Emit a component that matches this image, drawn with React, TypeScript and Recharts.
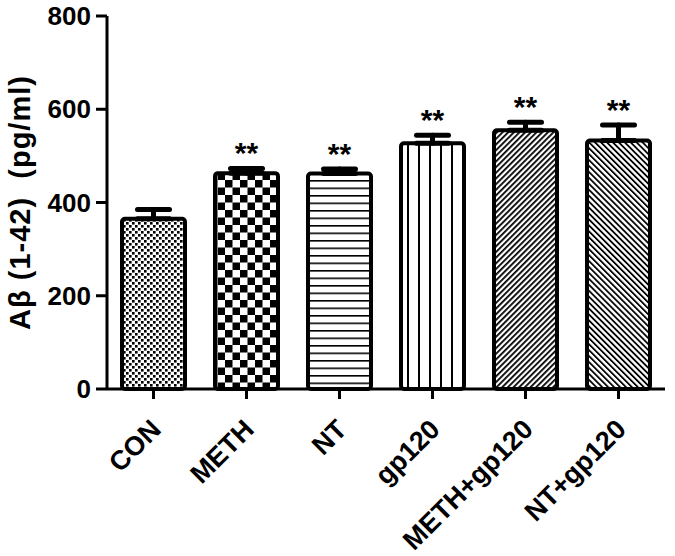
import { ComposedChart, Bar, Line, XAxis, YAxis, ErrorBar, Cell, LabelList } from 'recharts'

const groups = ['CON', 'METH', 'NT', 'gp120', 'METH+gp120', 'NT+gp120']
const means = [365, 463, 462, 527, 555, 533]
const sems = [20, 10, 10, 17, 17, 33]
const marks = ['', '**', '**', '**', '**', '**']
const yTicks = [0, 200, 400, 600, 800]
const fills = ['pCon', 'pMeth', 'pNt', 'pGp', 'pMethGp', 'pNtGp']

const data = groups.map((g, i) => ({
  name: g,
  mean: means[i],
  err: [0, sems[i]],
  top: means[i] + sems[i],
  sig: marks[i],
}))

const font = '"Liberation Sans", Arial, sans-serif'

function SlantTick({ x, y, payload }: any) {
  const ax = x + 9
  const ay = y + 32
  return (
    <text
      x={ax}
      y={ay}
      transform={`rotate(-45 ${ax} ${ay})`}
      textAnchor="end"
      fontFamily={font}
      fontWeight="bold"
      fontSize={27}
      fill="#000"
    >
      {payload.value}
    </text>
  )
}

function YLabel({ viewBox }: any) {
  const x = 20
  const y = viewBox.y + viewBox.height / 2
  return (
    <text
      x={x}
      y={y}
      transform={`rotate(-90 ${x} ${y})`}
      textAnchor="middle"
      dominantBaseline="central"
      fontFamily={font}
      fontWeight="bold"
      fontSize={29}
      letterSpacing={1}
      fill="#000"
      style={{ whiteSpace: 'pre' }}
    >
      {'A\u03b2 (1-42)  (pg/ml)'}
    </text>
  )
}

export default function App() {
  return (
    <div style={{ position: 'absolute', left: 0, top: 0, background: '#fff' }}>
      <ComposedChart
        width={675}
        height={556}
        data={data}
        margin={{ top: 16, right: 10, left: 0, bottom: 0 }}
      >
        <defs>
          <pattern id="pCon" width="6" height="6" patternUnits="userSpaceOnUse">
            <rect width="6" height="6" fill="#fff" />
            <rect x="0" y="0" width="2.6" height="2.6" fill="#000" />
            <rect x="3" y="3" width="2.6" height="2.6" fill="#000" />
          </pattern>
          <pattern id="pMeth" width="15" height="15" patternUnits="userSpaceOnUse">
            <rect width="15" height="15" fill="#fff" />
            <rect x="0" y="0" width="7.5" height="7.5" fill="#000" />
            <rect x="7.5" y="7.5" width="7.5" height="7.5" fill="#000" />
          </pattern>
          <pattern id="pNt" width="10" height="7.5" patternUnits="userSpaceOnUse">
            <rect width="10" height="7.5" fill="#fff" />
            <rect x="0" y="0" width="10" height="1.6" fill="#000" />
          </pattern>
          <pattern id="pGp" width="11" height="10" patternUnits="userSpaceOnUse">
            <rect width="11" height="10" fill="#fff" />
            <rect x="0" y="0" width="2" height="10" fill="#000" />
          </pattern>
          <pattern id="pMethGp" width="4" height="10" patternUnits="userSpaceOnUse" patternTransform="rotate(45)">
            <rect width="4" height="10" fill="#fff" />
            <rect x="0" y="0" width="1.8" height="10" fill="#000" />
          </pattern>
          <pattern id="pNtGp" width="4.2" height="10" patternUnits="userSpaceOnUse" patternTransform="rotate(-45)">
            <rect width="4.2" height="10" fill="#fff" />
            <rect x="0" y="0" width="1.8" height="10" fill="#000" />
          </pattern>
        </defs>
        <XAxis
          dataKey="name"
          height={167}
          interval={0}
          axisLine={{ stroke: '#000', strokeWidth: 3 }}
          tickLine={{ stroke: '#000', strokeWidth: 3 }}
          tickSize={10}
          tickMargin={0}
          tick={<SlantTick />}
        />
        <YAxis
          width={107}
          domain={[0, 800]}
          ticks={yTicks}
          interval={0}
          axisLine={{ stroke: '#000', strokeWidth: 3 }}
          tickLine={{ stroke: '#000', strokeWidth: 3 }}
          tickSize={11}
          tickMargin={5}
          tick={{ fill: '#000', fontFamily: font, fontWeight: 'bold', fontSize: 26 }}
          label={<YLabel />}
        />
        <Bar dataKey="mean" barSize={63} radius={3} stroke="#000" strokeWidth={4} isAnimationActive={false}>
          {data.map((d, i) => (
            <Cell key={d.name} fill={`url(#${fills[i]})`} stroke="#000" strokeWidth={4} />
          ))}
          <ErrorBar dataKey="err" direction="y" width={16} stroke="#000" strokeWidth={5} strokeLinecap="round" />
        </Bar>
        <Line dataKey="top" stroke="none" dot={false} activeDot={false} isAnimationActive={false} legendType="none">
          <LabelList
            dataKey="sig"
            position="top"
            offset={5}
            fill="#000"
            fontFamily={font}
            fontWeight="bold"
            fontSize={30}
          />
        </Line>
      </ComposedChart>
    </div>
  )
}
